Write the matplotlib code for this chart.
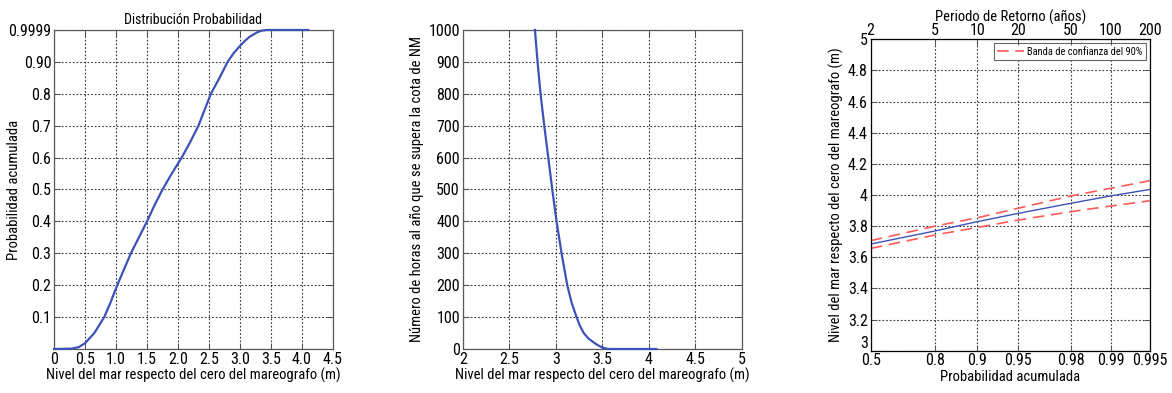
import numpy as np
import matplotlib
matplotlib.use("Agg")
import matplotlib.pyplot as plt
from matplotlib.ticker import FuncFormatter

plt.rcParams['font.family'] = ['Liberation Sans Narrow', 'Roboto Condensed', 'Liberation Sans', 'DejaVu Sans']

# panel 1: distribucion de probabilidad acumulada
nivel_cdf = [0, 0.28, 0.4, 0.5, 0.65, 0.81, 0.91, 1.02, 1.13, 1.24, 1.37, 1.5,
             1.62, 1.75, 1.9, 2.06, 2.2, 2.33, 2.43, 2.53, 2.67, 2.8, 2.9, 3.0,
             3.08, 3.15, 3.27, 3.35, 3.43, 4.1]
prob_cdf = [0, 0.001, 0.006, 0.018, 0.05, 0.1, 0.145, 0.2, 0.25, 0.3, 0.35, 0.4,
            0.45, 0.5, 0.55, 0.6, 0.65, 0.7, 0.75, 0.8, 0.85, 0.9, 0.928, 0.95,
            0.966, 0.978, 0.992, 0.998, 1.0, 1.0]
p1_xticks = [0, 0.5, 1.0, 1.5, 2.0, 2.5, 3.0, 3.5, 4.0, 4.5]
p1_xlabels = ['0', '0.5', '1.0', '1.5', '2.0', '2.5', '3.0', '3.5', '4.0', '4.5']
p1_yticks = [0, 0.1, 0.2, 0.3, 0.4, 0.5, 0.6, 0.7, 0.8, 0.9, 1.0]
p1_ylabels = ['', '0.1', '0.2', '0.3', '0.4', '0.5', '0.6', '0.7', '0.8', '0.90', '0.9999']

# panel 2: horas al año que se supera la cota
nivel_horas = [2.776, 2.804, 2.836, 2.876, 2.919, 2.962, 3.008, 3.062, 3.123,
               3.17, 3.223, 3.26, 3.30, 3.35, 3.40, 3.45, 3.49, 3.52, 3.56, 4.08]
horas = [1000, 900, 800, 700, 600, 500, 400, 300, 200,
         145, 100, 72, 50, 33, 22, 12, 6, 3, 0, 0]

# panel 3: regimen extremal
prob_ext = [0.5, 0.8, 0.9, 0.95, 0.98, 0.99, 0.995]
nivel_ext = [3.685, 3.769, 3.829, 3.882, 3.947, 3.994, 4.036]
banda_sup = [3.707, 3.800, 3.854, 3.915, 3.994, 4.043, 4.092]
banda_inf = [3.657, 3.743, 3.792, 3.839, 3.893, 3.929, 3.963]
periodo_ticks = [2, 5, 10, 20, 50, 100, 200]

azul = '#3d52b8'
rojo = '#ff5a5a'
gridkw = dict(color='0.2', linestyle=(0, (1.5, 1.8)), linewidth=0.8)
fs_tick = 11.5
fs_lab = 10.5


def style(ax):
    ax.grid(True, **gridkw)
    ax.tick_params(direction='in', top=True, right=True, labelsize=fs_tick,
                   length=4, width=0.7, color='0.3', pad=2)
    for s in ax.spines.values():
        s.set_color('0.35')
        s.set_linewidth(0.9)


fig = plt.figure(figsize=(11.72, 3.93), dpi=100)

ax1 = fig.add_axes([0.0461, 0.112, 0.238, 0.8117])
ax1.plot(nivel_cdf, prob_cdf, color=azul, lw=1.6, zorder=3, clip_on=False)
ax1.set_xlim(0, 4.5)
ax1.set_ylim(0, 1.0)
ax1.set_xticks(p1_xticks, p1_xlabels)
ax1.set_yticks(p1_yticks, p1_ylabels)
style(ax1)
ax1.set_title('Distribución Probabilidad', fontsize=10, pad=4)
ax1.set_xlabel('Nivel del mar respecto del cero del mareografo (m)', fontsize=fs_lab, labelpad=1)
ax1.set_ylabel('Probabilidad acumulada', fontsize=fs_lab)
ax1.yaxis.set_label_coords(-0.118, 0.5)

ax2 = fig.add_axes([0.3948, 0.112, 0.2383, 0.8117])
ax2.plot(nivel_horas, horas, color=azul, lw=1.6, zorder=3, clip_on=False)
ax2.set_xlim(2, 5)
ax2.set_ylim(0, 1000)
ax2.set_xticks([2, 2.5, 3, 3.5, 4, 4.5, 5])
ax2.set_yticks(range(0, 1001, 100))
ax2.xaxis.set_major_formatter(FuncFormatter(lambda v, p: '%g' % v))
style(ax2)
ax2.set_xlabel('Nivel del mar respecto del cero del mareografo (m)', fontsize=fs_lab, labelpad=1)
ax2.set_ylabel('Número de horas al año que se supera la cota de NM', fontsize=fs_lab, labelpad=3)


def gumbel(p):
    p = np.clip(np.asarray(p, dtype=float), 1e-9, 1 - 1e-12)
    return -np.log(-np.log(p))


def gumbel_inv(g):
    return np.exp(-np.exp(-np.asarray(g, dtype=float)))


ax3 = fig.add_axes([0.7429, 0.1076, 0.2383, 0.7924])
ax3.set_xscale('function', functions=(gumbel, gumbel_inv))
ax3.plot(prob_ext, nivel_ext, color=azul, lw=1.0)
ax3.plot(prob_ext, banda_sup, color=rojo, lw=1.2, dashes=(7, 4),
         label='Banda de confianza del 90%')
ax3.plot(prob_ext, banda_inf, color=rojo, lw=1.2, dashes=(7, 4))
ax3.set_xlim(0.5, 0.995)
ax3.set_ylim(3, 5)
ax3.set_xticks(prob_ext, ['%g' % v for v in prob_ext])
ax3.minorticks_off()
ax3.set_yticks(np.arange(3, 5.01, 0.2))
ax3.yaxis.set_major_formatter(FuncFormatter(lambda v, p: '%g' % round(v, 1)))
style(ax3)
ax3.tick_params(top=False)
ax3.yaxis.get_major_ticks()[0].label1.set_verticalalignment('bottom')
ax3.set_xlabel('Probabilidad acumulada', fontsize=fs_lab, labelpad=1)
ax3.set_ylabel('Nivel del mar respecto del cero del mareografo (m)', fontsize=fs_lab, labelpad=3)
leg = ax3.legend(loc='upper right', fontsize=7.5, fancybox=False, framealpha=1,
                 edgecolor='0.4', handlelength=2.6, borderpad=0.3,
                 borderaxespad=0.4, handletextpad=0.3)
leg.get_frame().set_linewidth(0.8)

ax3t = ax3.twiny()
ax3t.set_xscale('function', functions=(gumbel, gumbel_inv))
ax3t.set_xlim(ax3.get_xlim())
ax3t.set_xticks([1 - 1.0 / t for t in periodo_ticks], [str(t) for t in periodo_ticks])
ax3t.minorticks_off()
ax3t.tick_params(direction='in', labelsize=fs_tick, length=4, width=0.7, color='0.3', pad=1)
ax3t.set_xlabel('Periodo de Retorno (años)', fontsize=fs_lab, labelpad=1)

fig.savefig('out.png', dpi=100)
